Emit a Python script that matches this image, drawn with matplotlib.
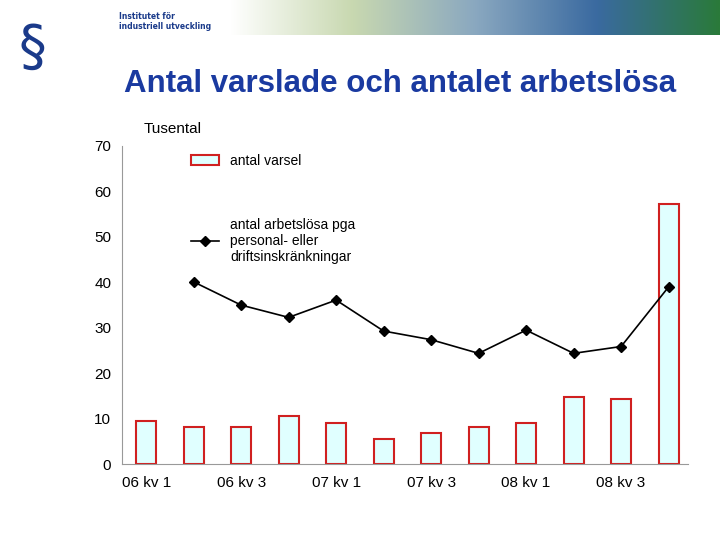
import matplotlib
matplotlib.use("Agg")
import matplotlib.pyplot as plt
import numpy as np
from matplotlib.colors import LinearSegmentedColormap

categories = ["06 kv 1","06 kv 2","06 kv 3","06 kv 4","07 kv 1","07 kv 2","07 kv 3","07 kv 4","08 kv 1","08 kv 2","08 kv 3","08 kv 4"]
varsel = [9.5, 8.2, 8.2, 10.6, 9.1, 5.6, 6.8, 8.2, 9.0, 14.9, 14.4, 57.3]
arbetslosa = [None, 40.1, 35.0, 32.3, 36.1, 29.3, 27.4, 24.4, 29.5, 24.4, 25.9, 39.0]
tick_labels = ["06 kv 1","06 kv 3","07 kv 1","07 kv 3","08 kv 1","08 kv 3"]

fig = plt.figure(figsize=(7.2,5.4), dpi=100)
bax = fig.add_axes([0.32, 0.935, 0.68, 0.065])
grad = np.linspace(0,1,256).reshape(1,-1)
cm = LinearSegmentedColormap.from_list("b", ["#ffffff","#c8d8b0","#8aa8c0","#3a6aa0","#2a7a3a"])
bax.imshow(grad, aspect="auto", cmap=cm)
bax.axis("off")
fig.text(0.165, 0.96, "Institutet för\nindustriell utveckling", fontsize=5.5, color="#1a3a8a", va="center", weight="bold")
fig.text(0.045, 0.91, "§", fontsize=40, color="#1a3a8a", ha="center", va="center")

fig.text(0.555, 0.845, "Antal varslade och antalet arbetslösa", fontsize=22.5, color="#1a3aa0", weight="bold", ha="center", va="center", family="Liberation Sans")
fig.text(0.2, 0.762, "Tusental", fontsize=11, ha="left", va="center", family="Liberation Sans")

ax = fig.add_axes([0.17, 0.14, 0.785, 0.59])
x = np.arange(len(categories))
ax.bar(x, varsel, width=0.42, color="#e0ffff", edgecolor="#d02020", linewidth=1.5, label="antal varsel")
lx = [i for i,v in enumerate(arbetslosa) if v is not None]
ly = [v for v in arbetslosa if v is not None]
ax.plot(lx, ly, color="black", marker="D", markersize=5, linewidth=1.2,
        label="antal arbetslösa pga\npersonal- eller\ndriftsinskränkningar")
ax.set_ylim(0,70)
ax.set_xlim(-0.5, 11.4)
ax.set_yticks(range(0,71,10))
ax.set_xticks(x[::2])
ax.set_xticklabels(tick_labels)
for s in ["top","right"]:
    ax.spines[s].set_visible(False)
for s in ["left","bottom"]:
    ax.spines[s].set_color("#999999")
ax.tick_params(labelsize=11, color="#999999", length=0, pad=8)
for t in ax.get_xticklabels()+ax.get_yticklabels():
    t.set_family("Liberation Sans")
h, l = ax.get_legend_handles_labels()
ax.legend(h[::-1], l[::-1], loc="upper left", bbox_to_anchor=(0.1, 1.015), frameon=False, labelspacing=3.6,
          prop={"family":"Liberation Sans","size":10})
fig.savefig("out.png")
